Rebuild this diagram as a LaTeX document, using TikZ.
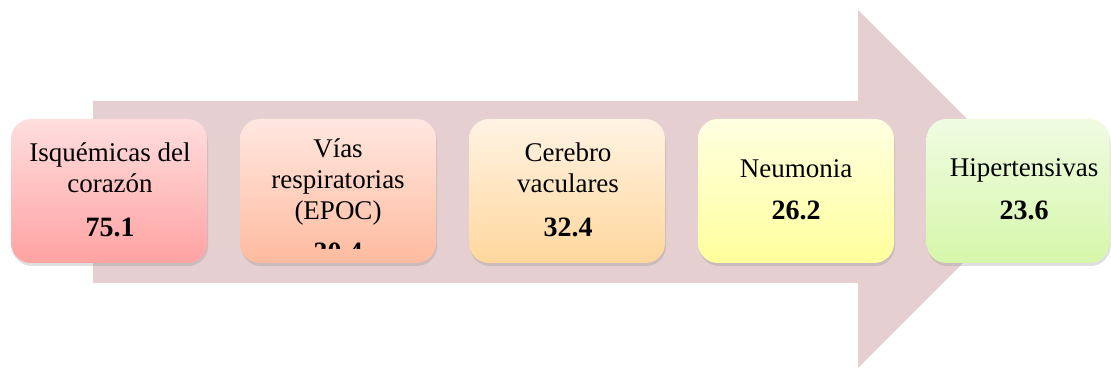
\documentclass[tikz,border=0pt]{standalone}
\usepackage{fontspec}
\setmainfont{Liberation Serif}
\usetikzlibrary{shadows}

\definecolor{arrowbg}{HTML}{E5CFD1}
\definecolor{redtop}{HTML}{FFDEDE}
\definecolor{redbot}{HTML}{FFA2A2}
\definecolor{saltop}{HTML}{FFE7E0}
\definecolor{salbot}{HTML}{FFBB9F}
\definecolor{orgtop}{HTML}{FFF3E4}
\definecolor{orgbot}{HTML}{FFD79C}
\definecolor{yeltop}{HTML}{FFFFE2}
\definecolor{yelbot}{HTML}{FFFF9C}
\definecolor{grntop}{HTML}{F0FBE2}
\definecolor{grnbot}{HTML}{D6F7AA}

\tikzset{
  causebox/.style={rounded corners=20pt, minimum width=196pt, minimum height=144pt,
    inner sep=0pt, drop shadow={shadow xshift=1pt, shadow yshift=-3pt, opacity=0.25}},
  causename/.style={align=center, font=\fontsize{27}{31}\selectfont, anchor=base, inner sep=0pt},
  causeval/.style={font=\fontsize{28}{31}\selectfont\bfseries, anchor=base, inner sep=0pt}
}

\begin{document}
\begin{tikzpicture}[x=1pt,y=-1pt]
    \clip (0,0) rectangle (1111,371);

    % Draw the big arrow in the back
    \fill[arrowbg] (93,101) -- (858,101) -- (858,10) -- (1037,189)
        -- (858,368) -- (858,283) -- (93,283) -- cycle;

    % Draw the boxes
    \node[causebox, top color=redtop, bottom color=redbot] (b1) at (109,191) {};
    \node[causebox, top color=saltop, bottom color=salbot] (b2) at (338,191) {};
    \node[causebox, top color=orgtop, bottom color=orgbot] (b3) at (567,191) {};
    \node[causebox, top color=yeltop, bottom color=yelbot] (b4) at (796,191) {};
    \node[causebox, minimum width=183pt, top color=grntop, bottom color=grnbot] (b5) at (1018,191) {};

    % Names and rates (base = last line)
    \node[causename] (n1) at (110,193) {Isquémicas del\\corazón};
    \node[causeval] (v1) at (110,237) {75.1};

    \begin{scope}
        \clip (240,119) rectangle (436,249); % text runs out of the box
        \node[causename] (n2) at (338,220) {Vías\\respiratorias\\(EPOC)};
        \node[causeval] (v2) at (338,262) {30.4};
    \end{scope}

    \node[causename] (n3) at (568,193) {Cerebro\\vaculares};
    \node[causeval] (v3) at (568,237) {32.4};

    \node[causename] (n4) at (796,178) {Neumonia};
    \node[causeval] (v4) at (796,220) {26.2};

    \node[causename] (n5) at (1024,177) {Hipertensivas};
    \node[causeval] (v5) at (1024,220) {23.6};
\end{tikzpicture}
\end{document}
